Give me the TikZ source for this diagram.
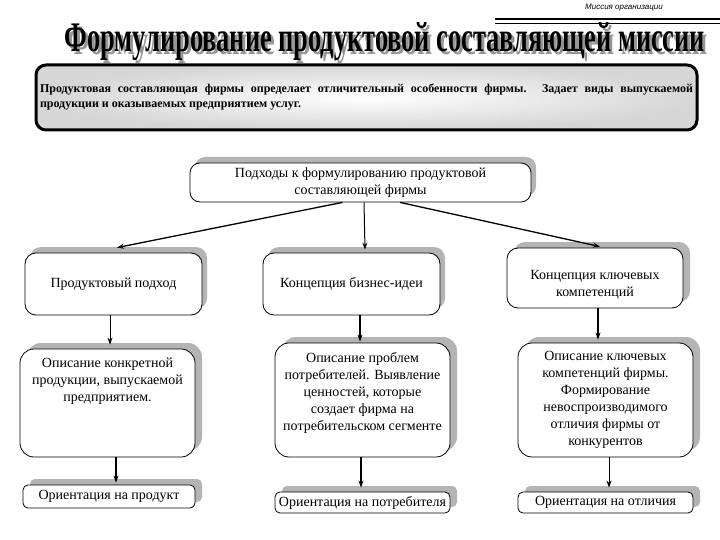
\documentclass[tikz,border=0pt]{standalone}
\usepackage{fontspec}
\setmainfont{LiberationSerif}[Extension=.ttf, UprightFont=*-Regular, BoldFont=*-Bold, ItalicFont=*-Italic, BoldItalicFont=*-BoldItalic]
\setsansfont{Liberation Sans}
\usetikzlibrary{shadows,calc,arrows.meta}
\definecolor{shadowgray}{RGB}{180,180,180}
\definecolor{titlegray}{RGB}{150,150,150}
\begin{document}
\begin{tikzpicture}[x=1pt,y=-1pt,
  box/.style={draw=black, line width=0.8pt, fill=white, rounded corners=#1, align=center,
    inner sep=2pt, font=\rmfamily\fontsize{14}{17}\selectfont},
  box/.default=11pt,
  boxtext/.style={align=center, inner sep=0pt, font=\rmfamily\fontsize{14}{17}\selectfont},
  sh/.style={general shadow={fill=shadowgray, shadow xshift=#1, shadow yshift=6pt}},
  sh/.default=6pt,
  arr/.style={-{Stealth[length=7pt,width=5pt]}, line width=1pt},
  arrb/.style={-{Stealth[length=7pt,width=5pt]}, line width=1.6pt}
]
\useasboundingbox (0,0) rectangle (720,540);
\fill[white] (0,0) rectangle (720,540);

% header
\node[font=\sffamily\itshape\fontsize{8}{9}\selectfont, inner sep=0pt] (mission) at (624,8) {Миссия организации};
\draw[line width=1.6pt] (495,19) -- (720,19);
\draw[line width=0.7pt] (495,23) -- (720,23);

% title
\node[inner sep=0pt, anchor=base, text=titlegray] (titlesh) at (388,55)
  {\resizebox{640pt}{29pt}{\rmfamily\bfseries Формулирование продуктовой составляющей миссии}};
\node[inner sep=0pt, anchor=base] (title) at (385,52)
  {\resizebox{640pt}{29pt}{\rmfamily\bfseries Формулирование продуктовой составляющей миссии}};

% top box
\node[draw=black, line width=3pt, rounded corners=10pt, inner color=white, outer color=gray!32,
  minimum width=661pt, minimum height=65pt, text width=653pt, align=justify, inner sep=3pt,
  font=\rmfamily\bfseries\fontsize{12}{15}\selectfont] (tb) at (366.5,97.5)
  {Продуктовая составляющая фирмы определает отличительный особенности фирмы. Задает виды выпускаемой продукции и оказываемых предприятием услуг.};

% approach box
\node[box=10pt, sh=5pt, minimum width=341pt, minimum height=39pt] (b0) at (360.5,182.5)
  {Подходы к формулированию продуктовой\\составляющей фирмы};

% row 1
\node[box, sh=5pt, minimum width=177pt, minimum height=62pt] (b1) at (113.5,284) {Продуктовый подход};
\node[box, sh=5pt, minimum width=177pt, minimum height=62pt] (b2) at (351.5,284) {Концепция бизнес-идеи};
\node[box, sh=7pt, minimum width=176pt, minimum height=60pt] (b3) at (595,278) {};
\node[boxtext] (b3t) at ($(b3)+(0,7)$) {Концепция ключевых\\компетенций};

% row 2
\node[box=14pt, sh=7pt, minimum width=175pt, minimum height=108pt] (b4) at (107.5,403)
  {Описание конкретной\\продукции, выпускаемой\\предприятием.\\[30pt]\mbox{}};
\node[box=14pt, sh=7pt, minimum width=175pt, minimum height=114pt] (b5) at (362.5,400)
  {Описание проблем\\потребителей. Выявление\\ценностей, которые\\создает фирма на\\потребительском сегменте\\\mbox{}};
\node[box=14pt, sh=7pt, minimum width=175pt, minimum height=114pt] (b6) at (605.5,400)
  {Описание ключевых\\компетенций фирмы.\\Формирование\\невоспроизводимого\\отличия фирмы от\\конкурентов};

% row 3
\node[box=5pt, sh=7pt, minimum width=172pt, minimum height=23pt] (b7) at (109,496.5) {Ориентация на продукт};
\node[box=5pt, sh=7pt, minimum width=175pt, minimum height=21pt] (b8) at (362.5,502.5) {Ориентация на потребителя};
\node[box=5pt, sh=7pt, minimum width=175pt, minimum height=21pt] (b9) at (605.5,502.5) {Ориентация на отличия};

% connectors
\draw[arr, line width=1.3pt] ($(b0.south)+(-18,0)$) -- ($(b1.north)+(3.5,-5)$);
\draw[arr] ($(b0.south)+(3.5,0)$) -- ($(b2.north)+(13.5,-3)$);
\draw[arr, line width=1.3pt] ($(b0.south)+(39.5,0)$) -- ($(b3.north)+(5,-1)$);

\draw[arr] ($(b1.south)+(-3.5,0)$) -- ($(b4.north)+(2.5,-4)$);
\draw[arrb] ($(b2.south)+(8.5,0)$) -- ($(b5.north)+(-2.5,-1)$);
\draw[arrb] ($(b3.south)+(3,0)$) -- ($(b6.north)+(-7.5,-3)$);

\draw[arrb] ($(b4.south)+(8.5,0)$) -- ($(b7.north)+(7,-2)$);
\draw[arrb] ($(b5.south)+(-1.5,0)$) -- ($(b8.north)+(-1.5,-4)$);
\draw[arr] ($(b6.south)+(3.5,0)$) -- ($(b9.north)+(3.5,-4)$);
\end{tikzpicture}
\end{document}
